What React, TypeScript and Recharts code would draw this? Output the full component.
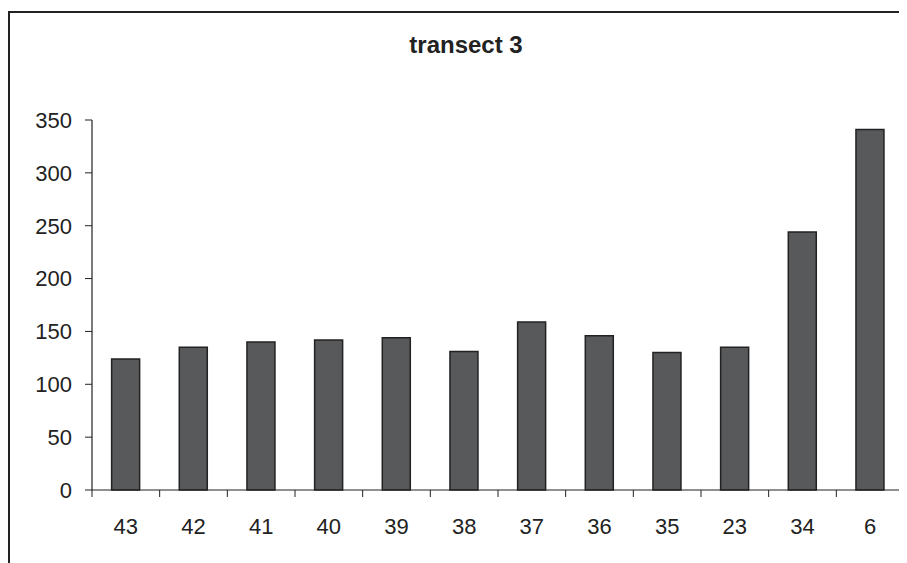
import { BarChart, Bar, XAxis, YAxis } from 'recharts'

// station labels along the transect, in survey order
const STATIONS = ['43', '42', '41', '40', '39', '38', '37', '36', '35', '23', '34', '6']
const VALUES = [124, 135, 140, 142, 144, 131, 159, 146, 130, 135, 244, 341]
const Y_TICKS = [0, 50, 100, 150, 200, 250, 300, 350]

const data = STATIONS.map((station, i) => ({ station, value: VALUES[i] }))

const FONT = '"Liberation Sans", Arial, sans-serif'
const INK = '#222'

// label plus tick marks on the category boundaries (Excel style)
function StationTick(props: any) {
  const { x, y, payload, index, visibleTicksCount } = props
  const half = payload?.offset ?? 0
  const last = index === visibleTicksCount - 1
  return (
    <g>
      <line x1={x - half} x2={x - half} y1={y} y2={y + 7} stroke={INK} strokeWidth={1} />
      {last && <line x1={x + half} x2={x + half} y1={y} y2={y + 7} stroke={INK} strokeWidth={1} />}
      <text x={x} y={y + 28} dy="0.71em" textAnchor="middle" fontSize={22} fill={INK} fontFamily={FONT}>
        {payload.value}
      </text>
    </g>
  )
}

export default function App() {
  return (
    <div style={{ position: 'relative', width: 899, height: 555, overflow: 'hidden', fontFamily: FONT }}>
      <div
        style={{
          position: 'absolute', left: 0, top: 3, width: 1000, height: 1000,
          borderLeft: `2px solid ${INK}`, borderTop: `2px solid ${INK}`,
        }}
      />
      <div
        style={{
          position: 'absolute', left: 358, top: 25, width: 200, textAlign: 'center',
          fontSize: 24, lineHeight: '24px', fontWeight: 'bold', color: INK,
        }}
      >
        transect 3
      </div>
      <div style={{ position: 'absolute', left: 0, top: 0 }}>
        <BarChart
          width={899}
          height={555}
          data={data}
          margin={{ top: 112, right: 3, bottom: 33, left: 0 }}
          barCategoryGap="29%"
        >
          <XAxis
            dataKey="station"
            height={40}
            axisLine={{ stroke: INK, strokeWidth: 1.2 }}
            tickLine={false}
            tickSize={0}
            tickMargin={0}
            interval={0}
            tick={<StationTick />}
          />
          <XAxis
            xAxisId="top"
            dataKey="station"
            orientation="top"
            height={0}
            tick={false}
            tickLine={false}
            axisLine={{ stroke: '#9a9a9a', strokeWidth: 1.5 }}
          />
          <YAxis
            width={84}
            domain={[0, 350]}
            ticks={Y_TICKS}
            interval={0}
            axisLine={{ stroke: INK, strokeWidth: 1.2 }}
            tickLine={{ stroke: INK }}
            tickSize={7}
            tickMargin={13}
            tick={{ fontSize: 22, fill: INK, fontFamily: FONT }}
          />
          <YAxis
            yAxisId="right"
            orientation="right"
            width={0}
            domain={[0, 350]}
            tick={false}
            tickLine={false}
            axisLine={{ stroke: '#9a9a9a', strokeWidth: 1.5 }}
          />
          <Bar dataKey="value" fill="#58595b" stroke={INK} strokeWidth={1.5} isAnimationActive={false} />
        </BarChart>
      </div>
    </div>
  )
}
